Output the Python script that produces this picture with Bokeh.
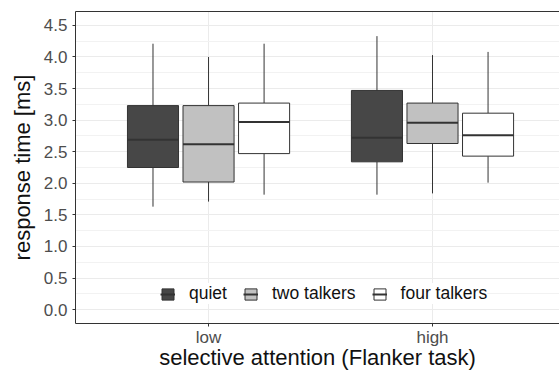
from bokeh.plotting import figure
from bokeh.models import (ColumnDataSource, FixedTicker, LinearAxis, Legend, LegendItem,
                          NumeralTickFormatter, Range1d)
from bokeh.transform import dodge
from bokeh.embed import file_html
from bokeh.resources import INLINE

# ---- data ----
categories = ["low", "high"]
cat_pos = [1, 2]
groups = ["quiet", "two talkers", "four talkers"]

quiet_lower = [1.63, 1.82]
quiet_q1 = [2.25, 2.34]
quiet_med = [2.69, 2.72]
quiet_q3 = [3.23, 3.47]
quiet_upper = [4.21, 4.33]

two_lower = [1.71, 1.84]
two_q1 = [2.02, 2.63]
two_med = [2.62, 2.96]
two_q3 = [3.23, 3.27]
two_upper = [4.00, 4.03]

four_lower = [1.82, 2.01]
four_q1 = [2.47, 2.43]
four_med = [2.97, 2.76]
four_q3 = [3.27, 3.11]
four_upper = [4.21, 4.08]

y_ticks = [0.0, 0.5, 1.0, 1.5, 2.0, 2.5, 3.0, 3.5, 4.0, 4.5]
y_minor = [0.25, 0.75, 1.25, 1.75, 2.25, 2.75, 3.25, 3.75, 4.25, 4.75, -0.25]

series = [
    (quiet_lower, quiet_q1, quiet_med, quiet_q3, quiet_upper),
    (two_lower, two_q1, two_med, two_q3, two_upper),
    (four_lower, four_q1, four_med, four_q3, four_upper),
]
fills = ["#474747", "#c1c1c1", "#ffffff"]
offsets = [-0.248, 0.0, 0.248]
box_w = 0.228

FONT = "Liberation Sans"

p = figure(width=559, height=372, output_backend="svg", toolbar_location=None,
           x_range=Range1d(0.406, 2.567), y_range=Range1d(-0.22, 4.72),
           min_border_left=75, min_border_top=11, min_border_bottom=0, min_border_right=0)
p.outline_line_color = None
p.background_fill_color = "white"

items = []
for (lo, q1, med, q3, up), fc, off, name in zip(series, fills, offsets, groups):
    src = ColumnDataSource(dict(x=cat_pos, lo=lo, q1=q1, med=med, q3=q3, up=up))
    p.segment(x0=dodge("x", off), x1=dodge("x", off), y0="q3", y1="up", source=src,
              line_color="#333333", line_width=1)
    p.segment(x0=dodge("x", off), x1=dodge("x", off), y0="lo", y1="q1", source=src,
              line_color="#333333", line_width=1)
    box = p.vbar(x=dodge("x", off), width=box_w, bottom="q1", top="q3", source=src,
                 fill_color=fc, line_color="#333333", line_width=1)
    med_r = p.segment(x0=dodge("x", off - box_w / 2), x1=dodge("x", off + box_w / 2),
                      y0="med", y1="med", source=src, line_color="#333333", line_width=2)
    items.append(LegendItem(label=name, renderers=[box, med_r]))

# axes
p.yaxis.ticker = FixedTicker(ticks=y_ticks, minor_ticks=y_minor)
p.yaxis.formatter = NumeralTickFormatter(format="0.0")
p.xaxis.ticker = FixedTicker(ticks=cat_pos)
p.xaxis.major_label_overrides = {pos: lab for pos, lab in zip(cat_pos, categories)}

for ax in (p.xaxis[0], p.yaxis[0]):
    ax.axis_line_color = "#333333"
    ax.major_tick_line_color = "#333333"
    ax.major_tick_out = 3
    ax.major_tick_in = 0
    ax.minor_tick_line_color = None
    ax.major_label_text_font = FONT
    ax.major_label_text_font_size = "17px"
    ax.major_label_text_color = "#4d4d4d"
    ax.axis_label_text_font = FONT
    ax.axis_label_text_font_size = "22px"
    ax.axis_label_text_font_style = "normal"
    ax.axis_label_text_color = "#111111"

p.yaxis.axis_label = "response time [ms]"
p.xaxis.axis_label = "selective attention (Flanker task)"
p.yaxis.major_label_standoff = 4
p.yaxis.axis_label_standoff = 6
p.xaxis.major_label_standoff = 1
p.xaxis.axis_label_standoff = -5

top = LinearAxis(ticker=FixedTicker(ticks=[]), major_tick_out=0, major_tick_in=0,
                 minor_tick_out=0, minor_tick_in=0, major_label_text_font_size="0px",
                 major_label_standoff=0, axis_label_standoff=0,
                 axis_line_color="#333333")
p.add_layout(top, "above")

p.xgrid.grid_line_color = "#ebebeb"
p.ygrid.grid_line_color = "#ebebeb"
p.ygrid.minor_grid_line_color = "#f2f2f2"

legend = Legend(items=items, orientation="horizontal", location=(85, 19),
                label_text_font=FONT, label_text_font_size="17.5px", label_text_color="#111111",
                glyph_width=15, glyph_height=14, label_standoff=14, spacing=16,
                padding=6, margin=0, border_line_color=None, background_fill_alpha=1,
                label_height=20)
p.add_layout(legend)

open("out.html", "w").write(file_html(p, INLINE))
